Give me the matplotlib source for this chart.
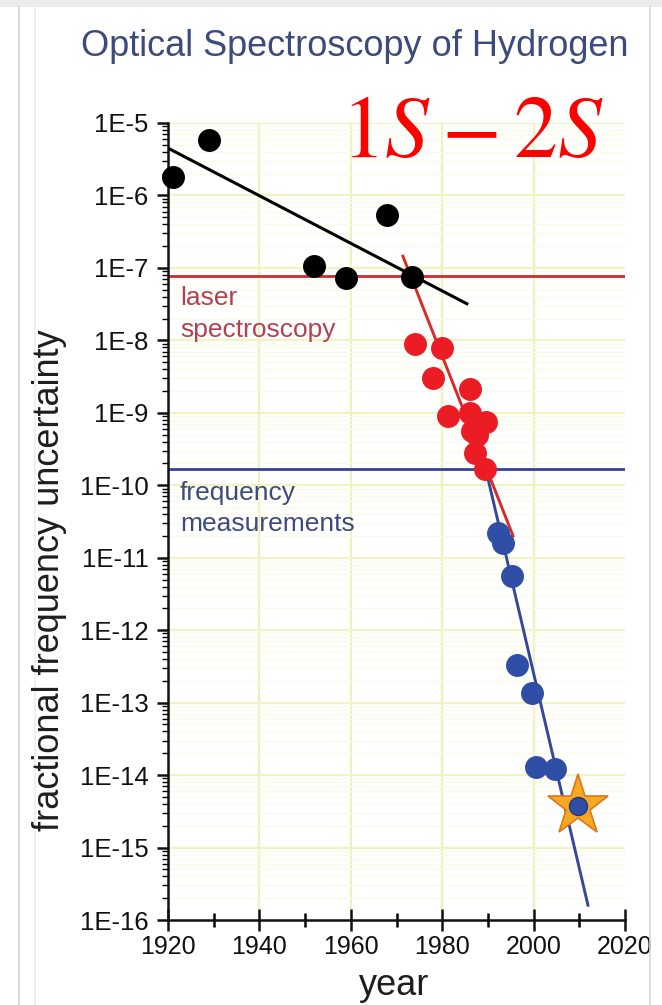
import numpy as np
import matplotlib
matplotlib.use("Agg")
import matplotlib.pyplot as plt
from matplotlib.lines import Line2D
from matplotlib.ticker import FixedLocator, LogLocator, FuncFormatter, NullFormatter

plt.rcParams['font.family'] = ['Liberation Sans', 'DejaVu Sans']
plt.rcParams['mathtext.fontset'] = 'stix'

# Early (pre-laser) measurements
black_years = [1921, 1929, 1952, 1959, 1968, 1973.5]
black_unc = [1.8e-6, 5.8e-6, 1.05e-7, 7.2e-8, 5.4e-7, 7.6e-8]

# Laser spectroscopy era
red_years = [1974, 1980, 1978, 1986, 1981.3, 1986.1, 1989.6, 1986.6, 1987.6, 1987.2, 1989.4]
red_unc = [8.9e-9, 7.8e-9, 3.0e-9, 2.1e-9, 9.1e-10, 1.0e-9, 7.4e-10, 5.7e-10, 4.9e-10, 2.8e-10, 1.7e-10]

# Frequency measurements
blue_years = [1992.2, 1993.3, 1995.3, 1996.4, 1999.7, 2000.5, 2004.7]
blue_unc = [2.2e-11, 1.6e-11, 5.6e-12, 3.3e-13, 1.35e-13, 1.3e-14, 1.2e-14]

# Latest result (highlighted)
star_year = [2009.7]
star_unc = [3.8e-15]

# Trend lines (end points)
black_fit_years = [1920, 1985.4]
black_fit_unc = [4.5e-6, 3.2e-8]
red_fit_years = [1971.4, 1995.5]
red_fit_unc = [1.45e-7, 2.0e-11]
blue_fit_years = [1989.5, 2011.9]
blue_fit_unc = [1.7e-10, 1.6e-16]

# Era boundaries
laser_level = 7.7e-8
freq_level = 1.67e-10

year_ticks = [1920, 1940, 1960, 1980, 2000, 2020]
decades = [10.0 ** e for e in range(-16, -4)]

fig = plt.figure(figsize=(6.62, 10.05), dpi=100)
W, H = 662, 1005

# light page frame
fig.add_artist(plt.Rectangle((0, 1 - 7 / H), 1, 7 / H, transform=fig.transFigure,
                             color='#ececec', lw=0))
for xp, c in [(19, '#d2d2d2'), (35, '#ededed'), (650, '#d8d8d8')]:
    fig.add_artist(Line2D([xp / W, xp / W], [0, 1 - 7 / H], transform=fig.transFigure,
                          color=c, lw=1.2))

ax = fig.add_axes([168 / W, 1 - 920 / H, (625 - 168) / W, (920 - 123) / H])
ax.set_yscale('log')
ax.set_xlim(1920, 2020)
ax.set_ylim(1e-16, 1e-5)

# grid
for yr in year_ticks[1:-1]:
    ax.axvline(yr, color='#eef2b8', lw=1.6, zorder=0)
for d in decades[1:]:
    ax.axhline(d, color='#f1f3c4', lw=1.6, zorder=0)
    for m in range(2, 10):
        if d / 10 * m > 1e-16:
            ax.axhline(d / 10 * m, color='#fafbe6', lw=0.8, zorder=0)

# era boundary lines
ax.axhline(laser_level, color='#cc2a2e', lw=2.0, zorder=2)
ax.axhline(freq_level, color='#34429a', lw=2.0, zorder=2)

# trend lines
ax.plot(black_fit_years, black_fit_unc, color='black', lw=2.2, zorder=3)
ax.plot(red_fit_years, red_fit_unc, color='#d92a2a', lw=2.1, zorder=3)
ax.plot(blue_fit_years, blue_fit_unc, color='#34479a', lw=2.1, zorder=3)

# points
ms = 15.5
ax.plot(black_years, black_unc, 'o', color='black', ms=ms, zorder=4, clip_on=False)
ax.plot(red_years, red_unc, 'o', color='#ec1c24', ms=ms, zorder=4, clip_on=False)
ax.plot(blue_years, blue_unc, 'o', color='#2f4fa6', ms=ms, zorder=4, clip_on=False)
ax.plot(star_year, star_unc, marker='*', color='#f7a823', mec='#d9781c', mew=1.2,
        ms=46, zorder=5, ls='none')
ax.plot(star_year, star_unc, 'o', color='#2f4fa6', mec='#24397e', mew=1.0, ms=13, zorder=6)

# era labels
lab_fs = 19
ax.text(1922.6, 3.85e-8, 'laser', color='#b3404e', fontsize=lab_fs, va='center', ha='left')
ax.text(1922.6, 1.39e-8, 'spectroscopy', color='#b3404e', fontsize=lab_fs, va='center', ha='left')
ax.text(1922.6, 7.8e-11, 'frequency', color='#3f4a7c', fontsize=lab_fs, va='center', ha='left')
ax.text(1922.6, 2.9e-11, 'measurements', color='#3f4a7c', fontsize=lab_fs, va='center', ha='left')

# axes styling
for s in ['top', 'right']:
    ax.spines[s].set_visible(False)
for s in ['left', 'bottom']:
    ax.spines[s].set_linewidth(1.8)
    ax.spines[s].set_color('#111111')

ax.xaxis.set_major_locator(FixedLocator(year_ticks))
ax.xaxis.set_minor_locator(FixedLocator([1930, 1950, 1970, 1990, 2010]))
ax.tick_params(axis='x', which='major', direction='inout', length=16, width=1.8,
               labelsize=18, pad=3, colors='#111111')
ax.tick_params(axis='x', which='minor', direction='inout', length=10, width=1.8)

ax.yaxis.set_major_locator(FixedLocator(decades))
ax.yaxis.set_major_formatter(FuncFormatter(lambda v, p: '1E%d' % round(np.log10(v))))
ax.yaxis.set_minor_locator(LogLocator(base=10, subs=np.arange(2, 10), numticks=30))
ax.yaxis.set_minor_formatter(NullFormatter())
ax.tick_params(axis='y', which='major', direction='out', length=8, width=1.8,
               labelsize=18.5, pad=6, colors='#111111')
ax.tick_params(axis='y', which='minor', direction='out', length=4, width=1.0)

# titles
fig.text(355 / W, 1 - 46 / H, 'Optical Spectroscopy of Hydrogen', ha='center', va='center',
         fontsize=26, color='#3d4a7c')
fig.text(472 / W, 1 - 134 / H, r'$1S-2S$', ha='center', va='center',
         fontsize=63, color='#ff0000')
fig.text(50 / W, 1 - 580 / H, 'fractional frequency uncertainty', rotation=90,
         ha='center', va='center', fontsize=26, color='#1e1e1e')
fig.text(394 / W, 1 - 985 / H, 'year', ha='center', va='center', fontsize=26,
         color='#1e1e1e')

fig.savefig('out.png', dpi=100)
